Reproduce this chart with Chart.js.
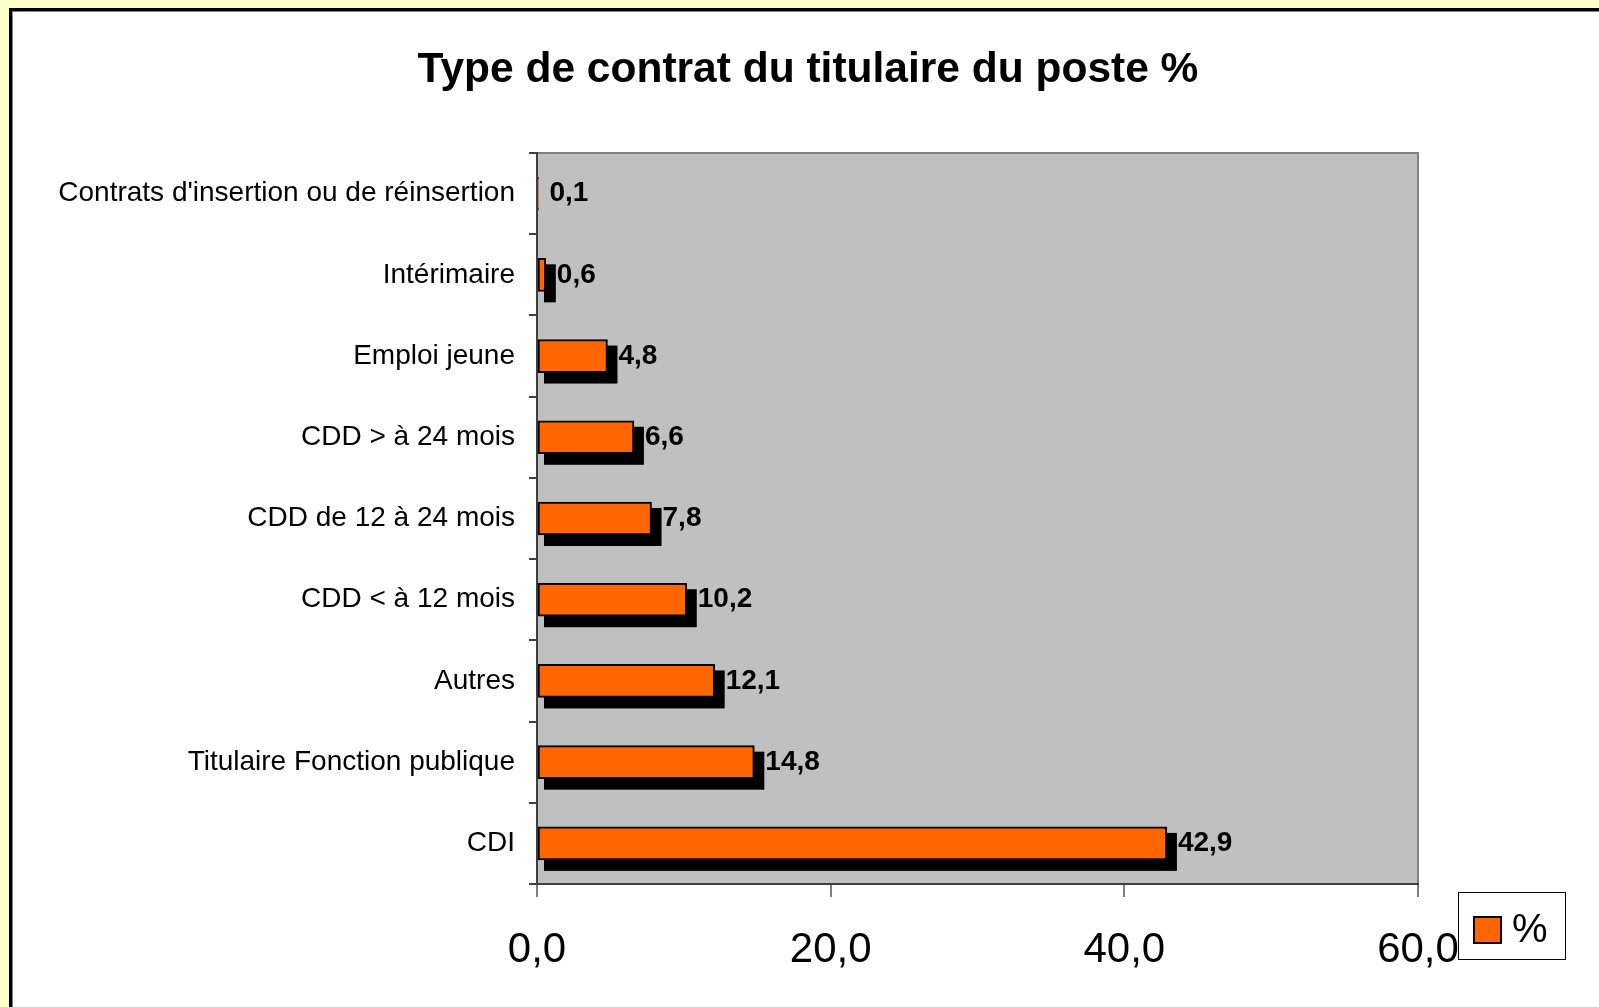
<!DOCTYPE html>
<html>
<head>
<meta charset="utf-8">
<title>Type de contrat du titulaire du poste %</title>
<script src="https://cdn.jsdelivr.net/npm/chart.js@4.4.1/dist/chart.umd.min.js"></script>
<style>
    html, body { margin: 0; padding: 0; background: #ffffcc; overflow: hidden; }
    #panel {
        position: absolute; left: 9px; top: 8px; right: 0; bottom: 0;
        background: #fff;
        border-left: 3px solid #000; border-top: 3px solid #000;
        box-shadow: inset 1px 1px 0 #808080;
    }
    #dvCanvas { position: absolute; left: 0; top: 0; }
</style>
</head>
<body>
<div id="panel"></div>
<canvas id="dvCanvas" width="1599" height="1007"></canvas>
<script>
    var chartTitle = 'Type de contrat du titulaire du poste %';
    var seriesLabel = '%';

    //categories, top to bottom as in the picture
    var categories = [
        "Contrats d'insertion ou de réinsertion",
        'Intérimaire',
        'Emploi jeune',
        'CDD > à 24 mois',
        'CDD de 12 à 24 mois',
        'CDD < à 12 mois',
        'Autres',
        'Titulaire Fonction publique',
        'CDI'
    ];
    var values = [0.1, 0.6, 4.8, 6.6, 7.8, 10.2, 12.1, 14.8, 42.9];

    //x axis ticks
    var tickMin = 0;
    var tickMax = 60;
    var tickStep = 20;

    var barColor = '#ff6600';
    var fontName = '"Liberation Sans", Arial, sans-serif';

    //french style number : 12,1
    function frNumber(v) {
        return Number(v).toFixed(1).replace('.', ',');
    }

    //grey plot area with its frame
    var plotArea = {
        id: 'plotArea',
        beforeDraw: function (chart) {
            var ctx = chart.ctx;
            var a = chart.chartArea;
            ctx.save();
            ctx.fillStyle = '#c0c0c0';
            ctx.fillRect(a.left, a.top, a.right - a.left, a.bottom - a.top);
            ctx.strokeStyle = '#808080';
            ctx.lineWidth = 2;
            ctx.beginPath();
            ctx.moveTo(a.left, a.top);
            ctx.lineTo(a.right, a.top);
            ctx.lineTo(a.right, a.bottom);
            ctx.stroke();
            ctx.restore();
        }
    };

    //black block behind each bar (excel 3d shadow look)
    var barShadow = {
        id: 'barShadow',
        beforeDatasetDraw: function (chart, args) {
            var ctx = chart.ctx;
            var bars = args.meta.data;
            ctx.save();
            ctx.fillStyle = '#000';
            for (var i = 0; i < bars.length; i++) {
                var b = bars[i];
                //too thin to show anything
                if (b.x - b.base < 3) continue;
                var top = b.y - b.height / 2;
                ctx.fillRect(b.base + 6, top + 6, (b.x + 10) - (b.base + 6), b.height + 5);
            }
            ctx.restore();
        }
    };

    //value written after each bar
    var valueLabels = {
        id: 'valueLabels',
        afterDatasetsDraw: function (chart) {
            var ctx = chart.ctx;
            var meta = chart.getDatasetMeta(0);
            ctx.save();
            ctx.font = 'bold 28px ' + fontName;
            ctx.fillStyle = '#000';
            ctx.textAlign = 'left';
            ctx.textBaseline = 'middle';
            for (var i = 0; i < meta.data.length; i++) {
                var bar = meta.data[i];
                ctx.fillText(frNumber(chart.data.datasets[0].data[i]), bar.x + 11, bar.y);
            }
            ctx.restore();
        }
    };

    //small legend box, bottom right
    var legendBox = {
        id: 'legendBox',
        afterDraw: function (chart) {
            var ctx = chart.ctx;
            var ds = chart.data.datasets[0];
            var a = chart.chartArea;
            var x = a.right + 40;
            var y = a.bottom + 8;
            ctx.save();
            ctx.fillStyle = '#fff';
            ctx.fillRect(x, y, 107, 67);
            ctx.strokeStyle = '#000';
            ctx.lineWidth = 1;
            ctx.strokeRect(x + 0.5, y + 0.5, 107, 67);
            ctx.fillStyle = ds.backgroundColor;
            ctx.fillRect(x + 16, y + 25, 27, 26);
            ctx.lineWidth = 2;
            ctx.strokeRect(x + 16, y + 25, 27, 26);
            ctx.fillStyle = '#000';
            ctx.font = '40px ' + fontName;
            ctx.textBaseline = 'alphabetic';
            ctx.fillText(ds.label, x + 54, y + 50);
            ctx.restore();
        }
    };

    var ctx = document.getElementById('dvCanvas').getContext('2d');
    var myChart = new Chart(ctx, {
        type: 'bar',
        data: {
            labels: categories,
            datasets: [{
                label: seriesLabel,
                data: values,
                backgroundColor: barColor,
                borderColor: '#000',
                borderWidth: 2,
                borderSkipped: false,
                barThickness: 33
            }]
        },
        options: {
            indexAxis: 'y',
            responsive: false,
            animation: false,
            devicePixelRatio: 1,
            layout: {
                padding: { left: 17, right: 0, top: 0, bottom: 0 }
            },
            scales: {
                x: {
                    min: tickMin,
                    max: tickMax,
                    ticks: {
                        stepSize: tickStep,
                        color: '#000',
                        padding: 28,
                        font: { family: fontName, size: 42 },
                        callback: function (v) { return frNumber(v); }
                    },
                    grid: {
                        drawOnChartArea: false,
                        tickLength: 13,
                        color: '#808080',
                        lineWidth: 2
                    },
                    border: { color: '#404040', width: 2 },
                    afterFit: function (scale) { scale.height = 123; }
                },
                y: {
                    ticks: {
                        color: '#000',
                        padding: 14,
                        font: { family: fontName, size: 28 }
                    },
                    grid: {
                        drawOnChartArea: false,
                        tickLength: 8,
                        color: '#404040',
                        lineWidth: 2
                    },
                    border: { color: '#404040', width: 2 },
                    afterFit: function (scale) { scale.width = 520; }
                },
                //empty axis that only keeps the white margin on the right
                yRight: {
                    type: 'linear',
                    position: 'right',
                    min: 0,
                    max: 1,
                    ticks: { display: false },
                    grid: { display: false },
                    border: { display: false },
                    afterFit: function (scale) { scale.width = 181; }
                }
            },
            plugins: {
                legend: { display: false },
                tooltip: { enabled: false },
                title: {
                    display: true,
                    text: chartTitle,
                    color: '#000',
                    font: { family: fontName, size: 42.5, weight: 'bold', lineHeight: 1.2 },
                    padding: { top: 45, bottom: 57 }
                }
            }
        },
        plugins: [plotArea, barShadow, valueLabels, legendBox]
    });
</script>
</body>
</html>
